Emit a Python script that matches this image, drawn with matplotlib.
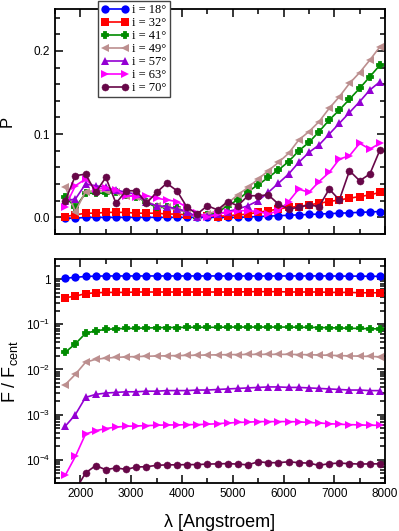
import matplotlib
matplotlib.use("Agg")
import matplotlib.pyplot as plt
import numpy as np
from matplotlib.ticker import MultipleLocator, FixedLocator, LogLocator, NullFormatter

# wavelength grid [Angstroem]
wave = [1700, 1900, 2100, 2300, 2500, 2700, 2900, 3100, 3300, 3500, 3700, 3900,
        4100, 4300, 4500, 4700, 4900, 5100, 5300, 5500, 5700, 5900, 6100, 6300,
        6500, 6700, 6900, 7100, 7300, 7500, 7700, 7900]

labels = ["i = 18°", "i = 32°", "i = 41°", "i = 49°", "i = 57°", "i = 63°", "i = 70°"]
colors = ["#0000ff", "#ff0000", "#008b00", "#bc8f8f", "#9400d3", "#ff00ff", "#670748"]
markers = ["o", "s", "P", "<", "^", ">", (8, 1, 0)]

# polarisation degree P
p18 = [-0.001, -0.001, 0.0, 0.0, 0.0, 0.0, 0.0, 0.0, 0.0, 0.0, 0.0, 0.0, 0.0, 0.0, 0.0, 0.0,
       0.0, 0.0, 0.0005, 0.001, 0.0015, 0.002, 0.0025, 0.003, 0.0035, 0.004, 0.0045, 0.005,
       0.0055, 0.006, 0.0065, 0.007]
p32 = [0.001, 0.003, 0.005, 0.005, 0.006, 0.006, 0.006, 0.005, 0.005, 0.005, 0.004, 0.004,
       0.003, 0.003, 0.002, 0.001, 0.002, 0.003, 0.004, 0.006, 0.008, 0.010, 0.012, 0.013,
       0.015, 0.017, 0.019, 0.021, 0.023, 0.025, 0.027, 0.030]
p41 = [0.025, 0.012, 0.029, 0.029, 0.029, 0.030, 0.027, 0.025, 0.018, 0.012, 0.012, 0.011,
       0.006, 0.0, 0.003, 0.006, 0.014, 0.021, 0.031, 0.039, 0.048, 0.057, 0.067, 0.080,
       0.090, 0.103, 0.117, 0.129, 0.142, 0.155, 0.169, 0.183]
p49 = [0.037, 0.007, 0.031, 0.032, 0.032, 0.030, 0.026, 0.025, 0.019, 0.014, 0.012, 0.009,
       0.006, 0.0, 0.004, 0.008, 0.017, 0.027, 0.036, 0.046, 0.056, 0.066, 0.077, 0.093,
       0.103, 0.115, 0.131, 0.145, 0.161, 0.174, 0.189, 0.205]
p57 = [0.020, 0.022, 0.040, 0.038, 0.036, 0.033, 0.030, 0.028, 0.018, 0.014, 0.013, 0.010,
       0.007, 0.0, 0.002, 0.004, 0.007, 0.010, 0.014, 0.020, 0.030, 0.041, 0.052, 0.066,
       0.078, 0.087, 0.100, 0.113, 0.126, 0.139, 0.153, 0.163]
p63 = [0.013, 0.038, 0.046, 0.034, 0.035, 0.033, 0.026, 0.025, 0.026, 0.023, 0.021, 0.019,
       0.012, 0.005, 0.0, 0.004, 0.006, 0.008, 0.008, 0.007, 0.004, 0.008, 0.019, 0.034,
       0.030, 0.043, 0.054, 0.070, 0.074, 0.089, 0.082, 0.089]
p70 = [0.020, 0.050, 0.052, 0.030, 0.048, 0.017, 0.032, 0.032, 0.017, 0.030, 0.041, 0.032,
       0.012, 0.004, 0.014, 0.009, 0.019, 0.014, 0.026, 0.026, 0.027, 0.016, 0.010, 0.012,
       0.015, 0.013, 0.034, 0.021, 0.056, 0.044, 0.052, 0.081]

# flux relative to central flux
f18 = [1.05, 1.10, 1.15, 1.17, 1.18, 1.18, 1.18, 1.18, 1.18, 1.18, 1.18, 1.18, 1.18, 1.18,
       1.18, 1.18, 1.18, 1.18, 1.18, 1.18, 1.18, 1.18, 1.18, 1.18, 1.18, 1.18, 1.18, 1.17,
       1.17, 1.17, 1.16, 1.16]
f32 = [0.39, 0.42, 0.48, 0.50, 0.51, 0.51, 0.51, 0.52, 0.52, 0.52, 0.52, 0.52, 0.52, 0.52,
       0.52, 0.52, 0.52, 0.52, 0.53, 0.53, 0.53, 0.53, 0.52, 0.52, 0.52, 0.52, 0.51, 0.51,
       0.51, 0.50, 0.50, 0.50]
f41 = [0.024, 0.037, 0.063, 0.072, 0.077, 0.080, 0.081, 0.082, 0.083, 0.084, 0.085, 0.085,
       0.086, 0.086, 0.086, 0.086, 0.087, 0.087, 0.087, 0.087, 0.087, 0.087, 0.087, 0.086,
       0.086, 0.085, 0.084, 0.083, 0.082, 0.081, 0.080, 0.079]
f49 = [0.0046, 0.0078, 0.0144, 0.0168, 0.0178, 0.0185, 0.0190, 0.0193, 0.0196, 0.0199,
       0.0201, 0.0203, 0.0205, 0.0207, 0.0209, 0.0211, 0.0213, 0.0214, 0.0215, 0.0216,
       0.0216, 0.0216, 0.0216, 0.0214, 0.0212, 0.0209, 0.0206, 0.0203, 0.0200, 0.0197,
       0.0194, 0.0191]
f57 = [0.00055, 0.0010, 0.0024, 0.0028, 0.0030, 0.0031, 0.0032, 0.0032, 0.0033, 0.0033,
       0.0034, 0.0034, 0.0034, 0.0035, 0.0035, 0.0036, 0.0037, 0.0038, 0.0039, 0.0040,
       0.0041, 0.0041, 0.0040, 0.0040, 0.0039, 0.0038, 0.0037, 0.0036, 0.0035, 0.0035,
       0.0034, 0.0034]
f63 = [4.5e-5, 1.18e-4, 3.7e-4, 4.4e-4, 4.9e-4, 5.3e-4, 5.5e-4, 5.6e-4, 5.7e-4, 5.8e-4,
       5.9e-4, 5.9e-4, 6.0e-4, 6.0e-4, 6.1e-4, 6.3e-4, 6.5e-4, 6.7e-4, 6.8e-4, 7.0e-4,
       7.0e-4, 7.0e-4, 7.0e-4, 6.9e-4, 6.7e-4, 6.5e-4, 6.3e-4, 6.1e-4, 6.0e-4, 5.9e-4,
       5.8e-4, 5.8e-4]
f70 = [8e-6, 2.1e-5, 5.1e-5, 7.4e-5, 6.0e-5, 6.6e-5, 6.1e-5, 6.9e-5, 7.0e-5, 7.5e-5,
       7.7e-5, 7.7e-5, 7.8e-5, 7.8e-5, 8.0e-5, 8.1e-5, 8.2e-5, 8.0e-5, 7.7e-5, 9.0e-5,
       8.6e-5, 8.6e-5, 9.0e-5, 8.6e-5, 8.4e-5, 7.5e-5, 8.2e-5, 8.4e-5, 8.2e-5, 8.0e-5,
       8.1e-5, 8.1e-5]

pol = [p18, p32, p41, p49, p57, p63, p70]
flux = [f18, f32, f41, f49, f57, f63, f70]

plt.rcParams["font.family"] = ["Liberation Sans", "DejaVu Sans"]
plt.rcParams["mathtext.fontset"] = "custom"
plt.rcParams["mathtext.rm"] = "Liberation Sans"
plt.rcParams["mathtext.it"] = "Liberation Sans"

fig = plt.figure(figsize=(3.99, 5.31), dpi=100)
ax1 = fig.add_axes([0.138, 0.5593, 0.827, 0.4232])
ax2 = fig.add_axes([0.138, 0.0898, 0.827, 0.4224])


def style(m):
    # circles a bit larger, spiky markers get a thick edge so they look filled
    if m == "o":
        return dict(ms=6, mew=0)
    if m in ("P", (8, 1, 0)):
        return dict(ms=5, mew=1.3)
    return dict(ms=5.5, mew=0)


lines = []
for y, c, m, lab in zip(pol, colors, markers, labels):
    ln, = ax1.plot(wave, y, color=c, marker=m, mec=c, lw=1.2, label=lab, **style(m))
    lines.append(ln)
for y, c, m in zip(flux, colors, markers):
    ax2.plot(wave, y, color=c, marker=m, mec=c, lw=1.2, **style(m))

for ax in (ax1, ax2):
    ax.set_xlim(1500, 8000)
    ax.xaxis.set_major_locator(MultipleLocator(1000))
    ax.xaxis.set_minor_locator(MultipleLocator(500))
    ax.tick_params(which="both", direction="in", top=True, right=True, labelsize=8.5)
    ax.tick_params(which="major", length=6, width=1.1)
    ax.tick_params(which="minor", length=3.5, width=1.1)
    for s in ax.spines.values():
        s.set_linewidth(1.3)

ax1.set_ylim(-0.02, 0.25)
ax1.yaxis.set_major_locator(FixedLocator([0.0, 0.1, 0.2]))
ax1.yaxis.set_minor_locator(MultipleLocator(0.02))
ax1.set_yticklabels(["0.0", "0.1", "0.2"])
ax1.tick_params(labelbottom=False)
ax1.set_ylabel("P", fontsize=12, labelpad=14)

ax2.set_yscale("log")
ax2.set_ylim(3e-5, 2.8)
ax2.yaxis.set_major_locator(FixedLocator([1e-4, 1e-3, 1e-2, 1e-1, 1]))
ax2.yaxis.set_minor_locator(LogLocator(base=10, subs=np.arange(2, 10)))
ax2.yaxis.set_minor_formatter(NullFormatter())
ax2.set_yticklabels([r"10$^{-4}$", r"10$^{-3}$", r"10$^{-2}$", r"10$^{-1}$", "1"])
ax2.set_ylabel(r"F / F$_{\rm cent}$", fontsize=13, labelpad=4)
ax2.set_xlabel(r"λ [Angstroem]", fontsize=13, labelpad=10)

leg = ax1.legend(handles=lines, loc="upper left", bbox_to_anchor=(0.2456, 0.998),
                 bbox_transform=fig.transFigure, prop={"family": "Liberation Serif", "size": 9},
                 frameon=True, fancybox=False, framealpha=1, edgecolor="#444444",
                 borderpad=0.25, labelspacing=0.08, handlelength=2.2, handletextpad=0.3,
                 borderaxespad=0, numpoints=2)
leg.get_frame().set_linewidth(1.0)

fig.savefig("out.png", dpi=100)
